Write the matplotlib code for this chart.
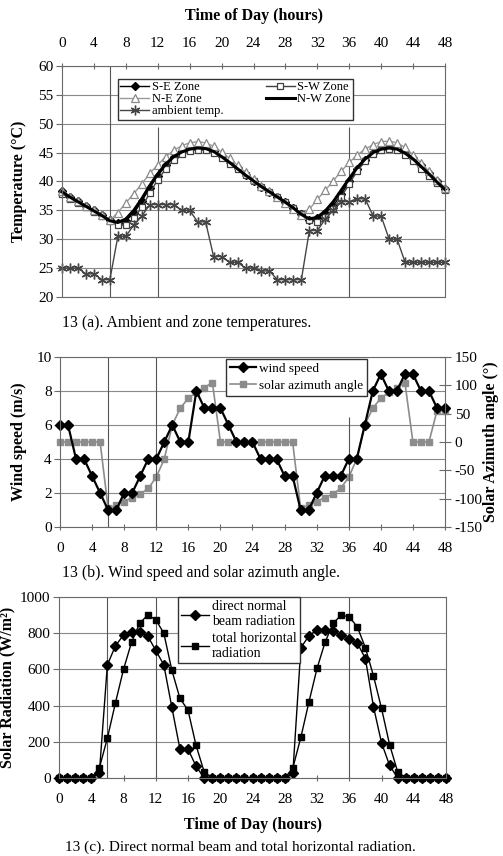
import matplotlib
matplotlib.use('Agg')
import matplotlib.pyplot as plt

plt.rcParams['font.family'] = ['Liberation Serif', 'DejaVu Serif']
plt.rcParams['font.size'] = 11
plt.rcParams['axes.unicode_minus'] = False

# hourly values over two days
hours = list(range(49))

ambient = [25, 25, 25, 24, 24, 23, 23, 30.5, 30.5, 32.5, 34, 36, 36, 36, 36,
           35, 35, 33, 33, 27, 27, 26, 26, 25, 25, 24.5, 24.5, 23, 23, 23, 23,
           31.5, 31.5, 33.5, 35, 36.5, 36.5, 37, 37, 34, 34, 30, 30,
           26, 26, 26, 26, 26, 26]
se_zone = [38.3, 37.4, 36.6, 35.8, 35.0, 34.2, 33.3, 32.8, 33.2, 34.5,
           36.6, 38.9, 41.0, 42.8, 44.2, 45.2, 45.8, 46.0, 45.9, 45.3,
           44.4, 43.4, 42.3, 41.2, 40.1, 39.1, 38.2, 37.3, 36.4, 35.4,
           34.3, 33.4, 33.6, 34.6, 35.8, 37.8, 40.0, 42.2, 43.8, 45.0,
           45.7, 46.0, 45.9, 45.2, 44.1, 42.8, 41.5, 40.1, 38.7]
sw_zone = [37.8, 37.0, 36.2, 35.5, 34.8, 34.0, 33.1, 32.4, 32.5, 33.6,
           35.6, 38.0, 40.3, 42.2, 43.7, 44.7, 45.3, 45.5, 45.4, 44.9,
           44.0, 43.1, 42.1, 41.1, 40.1, 39.1, 38.2, 37.3, 36.4, 35.4,
           34.3, 33.3, 33.0, 33.8, 35.3, 37.3, 39.6, 41.8, 43.5, 44.7,
           45.4, 45.6, 45.4, 44.6, 43.5, 42.2, 40.9, 39.7, 38.5]
ne_zone = [38.3, 37.4, 36.6, 35.8, 35.0, 34.2, 33.3, 34.6, 36.3, 37.9,
           39.6, 41.4, 42.9, 44.3, 45.4, 46.2, 46.7, 46.9, 46.7, 46.1,
           45.1, 44.0, 42.8, 41.6, 40.4, 39.3, 38.3, 37.3, 36.3, 35.3,
           34.2, 35.2, 36.9, 38.5, 40.1, 41.8, 43.3, 44.6, 45.6, 46.4,
           46.9, 47.0, 46.7, 45.9, 44.6, 43.2, 41.8, 40.3, 38.9]
nw_zone = [38.2, 37.3, 36.5, 35.7, 34.9, 34.1, 33.2, 32.9, 33.5, 35.0,
           37.0, 39.3, 41.3, 43.0, 44.3, 45.1, 45.6, 45.8, 45.7, 45.2,
           44.3, 43.3, 42.2, 41.1, 40.1, 39.1, 38.2, 37.3, 36.4, 35.4,
           34.3, 33.5, 33.8, 34.9, 36.5, 38.5, 40.5, 42.4, 43.9, 45.0,
           45.6, 45.8, 45.6, 44.9, 43.9, 42.6, 41.3, 39.9, 38.6]

wind = [6, 6, 4, 4, 3, 2, 1, 1, 2, 2, 3, 4, 4, 5, 6, 5, 5, 8, 7, 7,
        7, 6, 5, 5, 5, 4, 4, 4, 3, 3, 1, 1, 2, 3, 3, 3, 4, 4, 6, 8,
        9, 8, 8, 9, 9, 8, 8, 7, 7]
azimuth = [0, 0, 0, 0, 0, 0, -117, -112, -105, -98, -92, -82, -62, -30, 30,
           60, 77, 88, 96, 105, 0, 0, 0, 0, 0, 0, 0, 0, 0, 0,
           -117, -112, -105, -98, -92, -82, -62, -30, 30, 60, 77, 88, 96, 105,
           0, 0, 0, 55, 55]

beam = [0, 0, 0, 0, 0, 25, 625, 730, 790, 805, 805, 785, 705, 625, 390,
        160, 160, 65, 0, 0, 0, 0, 0, 0, 0, 0, 0, 0, 0, 25,
        720, 785, 820, 820, 810, 790, 770, 745, 660, 395, 195, 70,
        0, 0, 0, 0, 0, 0, 0]
horiz = [0, 0, 0, 0, 0, 55, 220, 415, 600, 750, 855, 900, 875, 800, 595,
         440, 375, 180, 35, 0, 0, 0, 0, 0, 0, 0, 0, 0, 0, 55,
         225, 420, 605, 750, 855, 900, 890, 835, 720, 565, 385, 185, 35,
         0, 0, 0, 0, 0, 0]

W, H = 503, 856
fig = plt.figure(figsize=(W / 100, H / 100), dpi=100)


def box(l, t, r, b):
    return [l / W, 1 - b / H, (r - l) / W, (b - t) / H]


grid_c = '#8a8a8a'
spine_c = '#6a6a6a'
label_kw = dict(fontweight='bold', fontsize=11.5)


def style(ax):
    for s in ax.spines.values():
        s.set_color(spine_c)
        s.set_linewidth(0.8)
    ax.grid(axis='y', color=grid_c, lw=0.8)
    ax.set_axisbelow(True)
    ax.set_xlim(0, 48)
    ax.set_xticks(range(0, 49, 4))
    ax.tick_params(axis='x', direction='inout', length=5, color=spine_c)
    ax.tick_params(axis='y', direction='out', length=4, color=spine_c, pad=2)


# (a) zone and ambient temperatures
ax1 = fig.add_axes(box(62, 66, 445, 297))
style(ax1)
ax1.xaxis.tick_top()
ax1.tick_params(axis='x', pad=9)
ax1.set_ylim(20, 60)
ax1.set_yticks(range(20, 61, 5))
ax1.axvline(6, color='#555555', lw=0.8)
ax1.vlines([12, 36], 20, 49.5, color='#555555', lw=0.8)

l_se, = ax1.plot(hours, se_zone, color='black', lw=1, marker='D', ms=4,
                 clip_on=False, label='S-E Zone')
l_sw, = ax1.plot(hours, sw_zone, color='#404040', lw=1, marker='s', ms=5,
                 mfc='white', mec='#404040', mew=0.9, clip_on=False, label='S-W Zone')
l_ne, = ax1.plot(hours, ne_zone, color='#9a9a9a', lw=1, marker='^', ms=5.5,
                 mfc='white', mec='#8a8a8a', mew=0.9, clip_on=False, label='N-E Zone')
l_nw, = ax1.plot(hours, nw_zone, color='black', lw=2.2, clip_on=False,
                 label='N-W Zone')
l_amb, = ax1.plot(hours, ambient, color='#454545', lw=1, marker=(6, 2, 0), ms=7,
                  mew=1, clip_on=False, label='ambient temp.')
ax1.legend(handles=[l_se, l_ne, l_amb, l_sw, l_nw], ncol=2, fontsize=9,
           loc='upper left', bbox_to_anchor=(0.146, 0.944), fancybox=False,
           edgecolor='#333333', framealpha=1, borderpad=0.2, labelspacing=0.0,
           handlelength=2.3, handletextpad=0.2, columnspacing=3.4,
           borderaxespad=0)
ax1.set_ylabel('Temperature (°C)', **label_kw)
ax1.yaxis.set_label_coords(-0.092, 0.5)

fig.text(254 / W, 1 - 16 / H, 'Time of Day (hours)', ha='center', va='center',
         fontweight='bold', fontsize=11.5)
fig.text(62 / W, 1 - 323 / H, '13 (a). Ambient and zone temperatures.',
         ha='left', va='center', fontsize=11.3)

# (b) wind speed and solar azimuth
ax2 = fig.add_axes(box(60, 357, 445, 527))
style(ax2)
ax2.set_ylim(0, 10)
ax2.set_yticks(range(0, 11, 2))
ax2.tick_params(axis='x', pad=8)
ax2.axvline(6, color='#555555', lw=0.8)
ax2.axvline(12, color='#555555', lw=0.8)
ax2.vlines([36], 0, 6.5, color='#555555', lw=0.8)
ax2b = ax2.twinx()
ax2b.set_ylim(-150, 150)
ax2b.set_yticks(range(-150, 151, 50))
ax2b.tick_params(axis='y', direction='inout', length=8, color=spine_c, pad=3)
for s in ax2b.spines.values():
    s.set_visible(False)
l_az, = ax2b.plot(hours, azimuth, color='#8c8c8c', lw=1.2, marker='s', ms=4,
                  clip_on=False, label='solar azimuth angle')
l_w, = ax2.plot(hours, wind, color='black', lw=1.6, marker='D', ms=5.5,
                clip_on=False, label='wind speed')
ax2.set_zorder(ax2b.get_zorder() + 1)
ax2.patch.set_visible(False)
ax2.legend(handles=[l_w, l_az], fontsize=9.5, loc='upper left',
           bbox_to_anchor=(0.431, 0.99), fancybox=False, edgecolor='#333333',
           framealpha=1, borderpad=0.3, labelspacing=0.35, handlelength=2.0,
           handletextpad=0.2, borderaxespad=0)
ax2.set_ylabel('Wind speed (m/s)', **label_kw)
ax2.yaxis.set_label_coords(-0.086, 0.5)
ax2b.set_ylabel('Solar Azimuth angle (°)', rotation=90, **label_kw)
ax2b.yaxis.set_label_coords(1.1, 0.5)
fig.text(62 / W, 1 - 573 / H, '13 (b). Wind speed and solar azimuth angle.',
         ha='left', va='center', fontsize=11.3)

# (c) radiation
ax3 = fig.add_axes(box(59, 597, 446, 778))
style(ax3)
ax3.set_ylim(0, 1000)
ax3.set_yticks(range(0, 1001, 200))
ax3.tick_params(axis='x', pad=8)
for h in (6, 12, 36):
    ax3.axvline(h, color='#555555', lw=0.8)
l_b, = ax3.plot(hours, beam, color='black', lw=1, marker='D', ms=5.5,
                clip_on=False, label='direct normal\nbeam radiation')
l_h, = ax3.plot(hours, horiz, color='black', lw=1, marker='s', ms=4,
                clip_on=False, label='total horizontal\nradiation')
ax3.legend(handles=[l_b, l_h], fontsize=10, loc='upper left',
           bbox_to_anchor=(0.307, 1.0), fancybox=False, edgecolor='#333333',
           framealpha=1, borderpad=0.25, labelspacing=0.25, handlelength=2.0,
           handletextpad=0.2, borderaxespad=0)
ax3.set_ylabel('Solar Radiation (W/m²)', **label_kw)
ax3.yaxis.set_label_coords(-0.112, 0.5)
ax3.set_xlabel('Time of Day (hours)', labelpad=8, **label_kw)
fig.text(240 / W, 1 - 847 / H,
         '13 (c). Direct normal beam and total horizontal radiation.',
         ha='center', va='center', fontsize=11)

fig.savefig('out.png', dpi=100)
